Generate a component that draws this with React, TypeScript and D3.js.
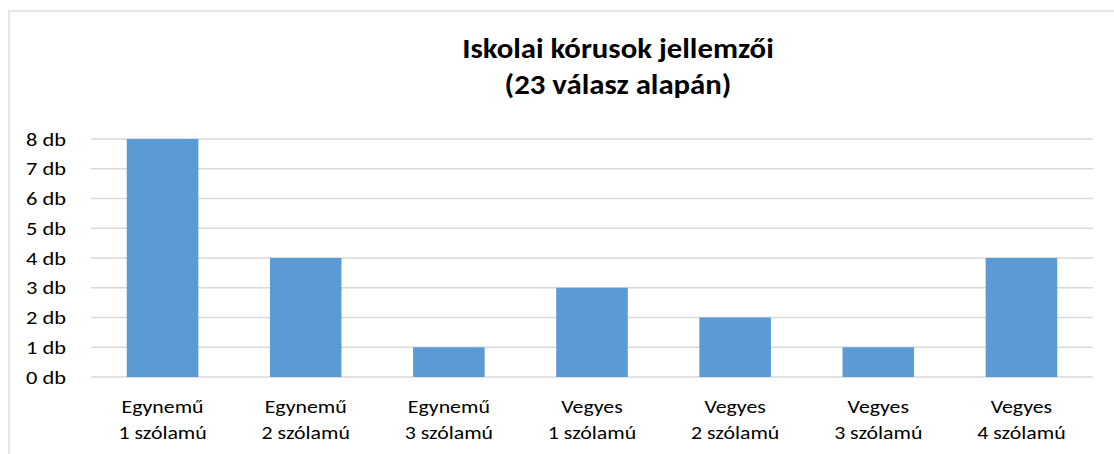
import React from "react";
import * as d3 from "d3";

const categories = [
  ["Egynemű", "1 szólamú"],
  ["Egynemű", "2 szólamú"],
  ["Egynemű", "3 szólamú"],
  ["Vegyes", "1 szólamú"],
  ["Vegyes", "2 szólamú"],
  ["Vegyes", "3 szólamú"],
  ["Vegyes", "4 szólamú"],
];
const values = [8, 4, 1, 3, 2, 1, 4];
const yTicks = [0, 1, 2, 3, 4, 5, 6, 7, 8];
const titleLines = ["Iskolai kórusok jellemzői", "(23 válasz alapán)"];

const W = 1114;
const H = 454;
const plot = { left: 91, right: 1093, top: 139, bottom: 377 };
const FONT = "Carlito, Calibri, 'Liberation Sans', Arial, sans-serif";

function SText({ x, y, sx, anchor, size, weight, children }: any) {
  return (
    <g transform={`translate(${x},${y}) scale(${sx},1)`}>
      <text x={0} y={0} textAnchor={anchor} fontFamily={FONT} fontSize={size} fontWeight={weight || "normal"} fill="#000">
        {children}
      </text>
    </g>
  );
}

export default function App() {
  const keys = categories.map((c) => c.join(" "));
  const x = d3.scaleBand<string>().domain(keys).range([plot.left, plot.right]).paddingInner(0.5).paddingOuter(0.25);
  const y = d3.scaleLinear().domain([0, 8]).range([plot.bottom, plot.top]);

  return (
    <svg width={W} height={H} style={{ position: "absolute", left: 0, top: 0 }}>
      <rect x={0} y={0} width={W} height={H} fill="#fff" />
      <rect x={9} y={11} width={1300} height={500} fill="none" stroke="#D9D9D9" strokeWidth={1.3} />
      {titleLines.map((t, i) => (
        <SText key={i} x={618} y={58 + i * 36} sx={1.08} anchor="middle" size={28.5} weight="bold">
          {t}
        </SText>
      ))}
      {yTicks.map((t) => (
        <g key={t}>
          <line x1={plot.left} x2={plot.right} y1={y(t)} y2={y(t)} stroke="#D9D9D9" strokeWidth={1.3} />
          <SText x={66} y={y(t) + 6.5} sx={1.28} anchor="end" size={17.5}>
            {t} db
          </SText>
        </g>
      ))}
      {values.map((v, i) => (
        <rect key={i} x={x(keys[i])} y={y(v)} width={x.bandwidth()} height={y(0) - y(v)} fill="#5B9BD5" />
      ))}
      {categories.map((c, i) =>
        c.map((line, j) => (
          <SText key={`${i}-${j}`} x={(x(keys[i]) as number) + x.bandwidth() / 2} y={413 + j * 26} sx={1.18} anchor="middle" size={18.5}>
            {line}
          </SText>
        ))
      )}
    </svg>
  );
}
